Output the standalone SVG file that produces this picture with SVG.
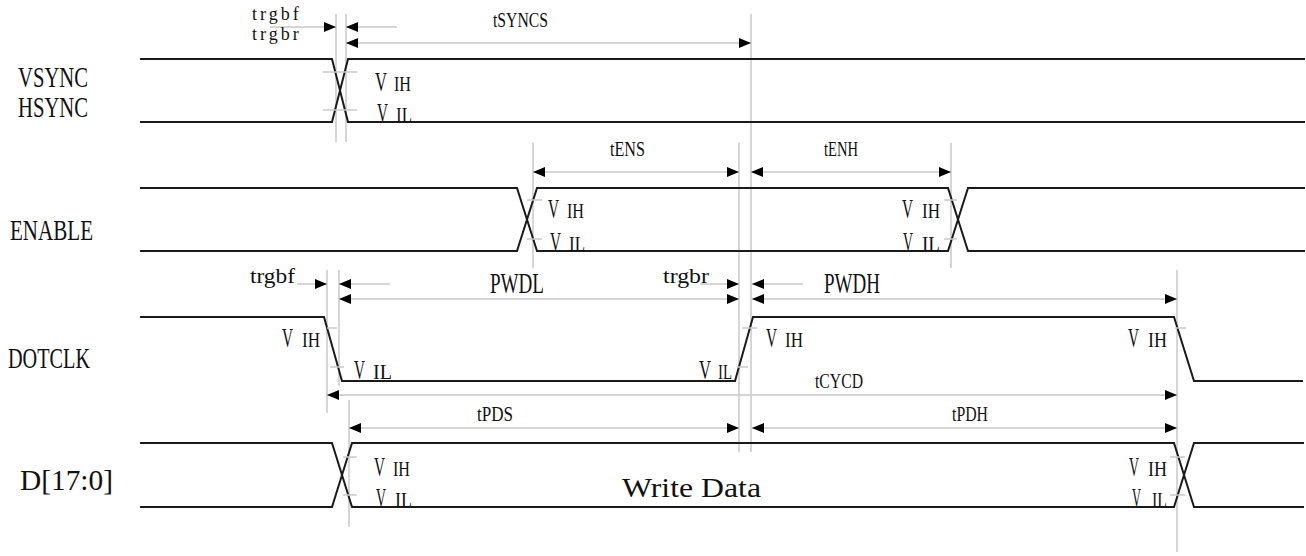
<svg xmlns="http://www.w3.org/2000/svg" width="1306" height="556" viewBox="0 0 1306 556">
<style>
text{font-family:"Liberation Serif","DejaVu Serif",serif;fill:#111}
.lbl{font-size:30px}
.t{font-size:22px}
.big{font-size:30px}
.v{font-size:28px}
.s{font-size:20px}
.sm{font-size:18px;letter-spacing:3px}
.wave{fill:none;stroke:#1a1a1a;stroke-width:2}
.g{stroke:#c8c8c8;stroke-width:1.5;fill:none}
.tick{stroke:#c8c8c8;stroke-width:1.5}
.arr{stroke:#c8c8c8;stroke-width:1.5;fill:none}
.e{marker-end:url(#ah)}
.b{marker-start:url(#ah)}
</style>
<defs>
<marker id="ah" markerUnits="userSpaceOnUse" markerWidth="12" markerHeight="10" refX="12" refY="5" orient="auto-start-reverse">
<path d="M0,0 L12,5 L0,10 Z" fill="#000"/>
</marker>
</defs>
<rect width="1306" height="556" fill="#fff"/>

<g id="guides">
<line class="g" x1="336" y1="14" x2="336" y2="142"/>
<line class="g" x1="346" y1="14" x2="346" y2="142"/>
<line class="g" x1="751" y1="14" x2="751" y2="452"/>
<line class="g" x1="533" y1="143" x2="533" y2="268"/>
<line class="g" x1="739" y1="143" x2="739" y2="452"/>
<line class="g" x1="951" y1="143" x2="951" y2="268"/>
<line class="g" x1="327" y1="270" x2="327" y2="413"/>
<line class="g" x1="339" y1="270" x2="339" y2="386"/>
<line class="g" x1="1177" y1="270" x2="1177" y2="552"/>
<line class="g" x1="349" y1="400" x2="349" y2="527"/>
</g>

<g id="vsync">
<text class="lbl" textLength="70" lengthAdjust="spacingAndGlyphs" x="18" y="87">VSYNC</text>
<text class="lbl" textLength="70" lengthAdjust="spacingAndGlyphs" x="18" y="117">HSYNC</text>
<path class="wave" d="M140,59 H332 L348,122 H1305"/>
<path class="wave" d="M140,122 H332 L348,59 H1305"/>
<line class="tick" x1="323" y1="72" x2="357" y2="72"/>
<line class="tick" x1="323" y1="110" x2="357" y2="110"/>
<text class="v" x="375" y="91" textLength="12" lengthAdjust="spacingAndGlyphs">V</text>
<text class="s" x="394" y="91" textLength="17" lengthAdjust="spacingAndGlyphs">IH</text>
<text class="v" x="377" y="122" textLength="11" lengthAdjust="spacingAndGlyphs">V</text>
<text class="s" x="396" y="122" textLength="16" lengthAdjust="spacingAndGlyphs">IL</text>
</g>

<g id="enable">
<text class="lbl" textLength="83" lengthAdjust="spacingAndGlyphs" x="10" y="240">ENABLE</text>
<path class="wave" d="M140,188 H517 L537,251 H948 L968,188 H1305"/>
<path class="wave" d="M140,251 H517 L537,188 H948 L968,251 H1305"/>
<line class="tick" x1="527" y1="200" x2="542" y2="200"/>
<line class="tick" x1="527" y1="239" x2="542" y2="239"/>
<line class="tick" x1="944" y1="200" x2="957" y2="200"/>
<line class="tick" x1="944" y1="239" x2="957" y2="239"/>
<text class="v" x="548" y="218" textLength="11" lengthAdjust="spacingAndGlyphs">V</text>
<text class="s" x="567" y="218" textLength="17" lengthAdjust="spacingAndGlyphs">IH</text>
<text class="v" x="550" y="251" textLength="11" lengthAdjust="spacingAndGlyphs">V</text>
<text class="s" x="569" y="251" textLength="16" lengthAdjust="spacingAndGlyphs">IL</text>
<text class="v" x="902" y="218" textLength="11" lengthAdjust="spacingAndGlyphs">V</text>
<text class="s" x="922" y="218" textLength="18" lengthAdjust="spacingAndGlyphs">IH</text>
<text class="v" x="903" y="251" textLength="10" lengthAdjust="spacingAndGlyphs">V</text>
<text class="s" x="922" y="251" textLength="18" lengthAdjust="spacingAndGlyphs">IL</text>
</g>

<g id="dotclk">
<text class="lbl" textLength="82" lengthAdjust="spacingAndGlyphs" x="8" y="368">DOTCLK</text>
<path class="wave" d="M140,317 H324 L342,381 H735 L753,317 H1174 L1194,381 H1303"/>
<line class="tick" x1="327" y1="328" x2="337" y2="328"/>
<line class="tick" x1="330" y1="367" x2="344" y2="367"/>
<line class="tick" x1="742" y1="328" x2="757" y2="328"/>
<line class="tick" x1="737" y1="367" x2="748" y2="367"/>
<line class="tick" x1="1175" y1="328" x2="1186" y2="328"/>
<text class="v" x="282" y="347" textLength="11" lengthAdjust="spacingAndGlyphs">V</text>
<text class="s" x="302" y="347" textLength="18" lengthAdjust="spacingAndGlyphs">IH</text>
<text class="v" x="354" y="379" textLength="11" lengthAdjust="spacingAndGlyphs">V</text>
<text class="s" x="373" y="379" textLength="19" lengthAdjust="spacingAndGlyphs">IL</text>
<text class="v" x="699" y="379" textLength="12" lengthAdjust="spacingAndGlyphs">V</text>
<text class="s" x="718" y="379" textLength="14" lengthAdjust="spacingAndGlyphs">IL</text>
<text class="v" x="766" y="347" textLength="11" lengthAdjust="spacingAndGlyphs">V</text>
<text class="s" x="785" y="347" textLength="18" lengthAdjust="spacingAndGlyphs">IH</text>
<text class="v" x="1128" y="347" textLength="11" lengthAdjust="spacingAndGlyphs">V</text>
<text class="s" x="1148" y="347" textLength="19" lengthAdjust="spacingAndGlyphs">IH</text>
</g>

<g id="data">
<text class="lbl" textLength="93" lengthAdjust="spacingAndGlyphs" x="20" y="490">D[17:0]</text>
<path class="wave" d="M140,443 H332 L352,507 H1174 L1194,443 H1304"/>
<path class="wave" d="M140,507 H332 L352,443 H1174 L1194,507 H1304"/>
<line class="tick" x1="343" y1="457" x2="357" y2="457"/>
<line class="tick" x1="343" y1="495" x2="357" y2="495"/>
<line class="tick" x1="1170" y1="457" x2="1185" y2="457"/>
<line class="tick" x1="1170" y1="495" x2="1185" y2="495"/>
<text class="v" x="374" y="476" textLength="11" lengthAdjust="spacingAndGlyphs">V</text>
<text class="s" x="393" y="476" textLength="17" lengthAdjust="spacingAndGlyphs">IH</text>
<text class="v" x="376" y="507" textLength="10" lengthAdjust="spacingAndGlyphs">V</text>
<text class="s" x="395" y="507" textLength="17" lengthAdjust="spacingAndGlyphs">IL</text>
<text class="v" x="1129" y="476" textLength="10" lengthAdjust="spacingAndGlyphs">V</text>
<text class="s" x="1148" y="476" textLength="19" lengthAdjust="spacingAndGlyphs">IH</text>
<text class="v" x="1132" y="507" textLength="9" lengthAdjust="spacingAndGlyphs">V</text>
<text class="s" x="1152" y="507" textLength="15" lengthAdjust="spacingAndGlyphs">IL</text>
<text x="622" y="497" textLength="139" lengthAdjust="spacingAndGlyphs" style="font-size:27px">Write Data</text>
</g>

<g id="connectors">
<line class="arr e" x1="270" y1="27" x2="336" y2="27"/>
<line class="arr b" x1="346" y1="27" x2="397" y2="27"/>
<line class="arr b e" x1="346" y1="43" x2="751" y2="43"/>
<line class="arr b e" x1="533" y1="172" x2="739" y2="172"/>
<line class="arr b e" x1="751" y1="172" x2="951" y2="172"/>
<line class="arr e" x1="297" y1="284" x2="327" y2="284"/>
<line class="arr b" x1="339" y1="284" x2="390" y2="284"/>
<line class="arr e" x1="700" y1="284" x2="739" y2="284"/>
<line class="arr b" x1="752" y1="284" x2="803" y2="284"/>
<line class="arr b e" x1="339" y1="299" x2="739" y2="299"/>
<line class="arr b e" x1="752" y1="299" x2="1177" y2="299"/>
<line class="arr b e" x1="327" y1="395" x2="1177" y2="395"/>
<line class="arr b e" x1="349" y1="428" x2="739" y2="428"/>
<line class="arr b e" x1="752" y1="428" x2="1177" y2="428"/>
</g>

<g id="timing-labels">
<text class="sm" x="252" y="20">trgbf</text>
<text class="sm" x="252" y="40">trgbr</text>
<text class="t" x="493" y="27" textLength="55" lengthAdjust="spacingAndGlyphs">tSYNCS</text>
<text class="t" x="610" y="156" textLength="35" lengthAdjust="spacingAndGlyphs">tENS</text>
<text class="t" x="824" y="156" textLength="34" lengthAdjust="spacingAndGlyphs">tENH</text>
<text class="t" x="250" y="283" textLength="45" lengthAdjust="spacingAndGlyphs">trgbf</text>
<text class="big" x="490" y="293" textLength="54" lengthAdjust="spacingAndGlyphs">PWDL</text>
<text class="t" x="663" y="283" textLength="46" lengthAdjust="spacingAndGlyphs">trgbr</text>
<text class="big" x="824" y="293" textLength="56" lengthAdjust="spacingAndGlyphs">PWDH</text>
<text class="t" x="815" y="388" textLength="48" lengthAdjust="spacingAndGlyphs">tCYCD</text>
<text class="t" x="477" y="421" textLength="36" lengthAdjust="spacingAndGlyphs">tPDS</text>
<text class="t" x="952" y="421" textLength="36" lengthAdjust="spacingAndGlyphs">tPDH</text>
</g>
</svg>
